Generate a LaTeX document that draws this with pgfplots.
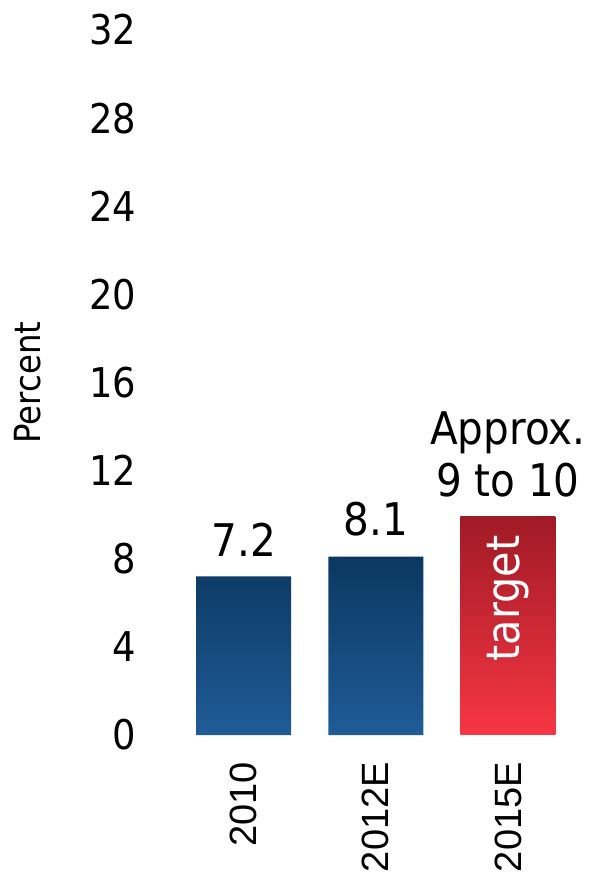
\documentclass[border=0pt]{standalone}
\usepackage{pgfplots}
\pgfplotsset{compat=1.18}
\usepackage{fontspec}
\setmainfont{DejaVu Sans}[FakeStretch=0.9]
\newfontfamily\arial{Liberation Sans}
\definecolor{btop}{HTML}{0B3760}
\definecolor{bbot}{HTML}{1F5C97}
\definecolor{rtop}{HTML}{A01A25}
\definecolor{rbot}{HTML}{F73644}
\begin{document}
\begin{tikzpicture}
\path[use as bounding box] (0,0) rectangle (593bp,874bp);
\begin{axis}[
  at={(177.5bp,139bp)}, anchor=south west,
  scale only axis, width=396.5bp, height=705bp,
  xmin=-0.5, xmax=2.5, ymin=0, ymax=32,
  axis line style={draw=none},
  major tick length=0pt,
  tick style={draw=none},
  xtick={0,1,2}, xticklabels={2010,2012E,2015E},
  xticklabel style={rotate=90, anchor=east, inner sep=0pt, xshift=-27bp,
    font=\arial\fontsize{38bp}{46bp}\selectfont},
  ytick={0,4,...,32},
  /pgf/number format/assume math mode=true,
  yticklabel style={anchor=east, inner sep=0pt, xshift=-41bp,
    font=\fontsize{41bp}{48bp}\selectfont},
  ylabel={Percent},
  ylabel style={at={(axis description cs:-0.377,0.5)}, rotate=0, anchor=center,
    font=\fontsize{36bp}{42bp}\selectfont},
  clip=false,
]
\addplot[ybar, bar width=95bp, bar shift=0pt, draw=none,
  top color=btop, bottom color=bbot,
  nodes near coords,
  every node near coord/.append style={font=\fontsize{45bp}{52bp}\selectfont, inner sep=0pt, yshift=20bp, anchor=south, text=black},
  ] coordinates {(0,7.2) (1,8.1)};
\addplot[ybar, bar width=95bp, bar shift=0pt, draw=none,
  top color=rtop, bottom color=rbot,
  nodes near coords={Approx.\\9 to 10},
  every node near coord/.append style={font=\fontsize{45bp}{52bp}\selectfont, align=center, inner sep=0pt, yshift=20bp, anchor=south, text=black},
  ] coordinates {(2,9.9)};
\node[rotate=90, text=white, font=\fontsize{46bp}{52bp}\selectfont, inner sep=0pt] at (axis cs:2,6.2) {target};
\end{axis}
\end{tikzpicture}
\end{document}
